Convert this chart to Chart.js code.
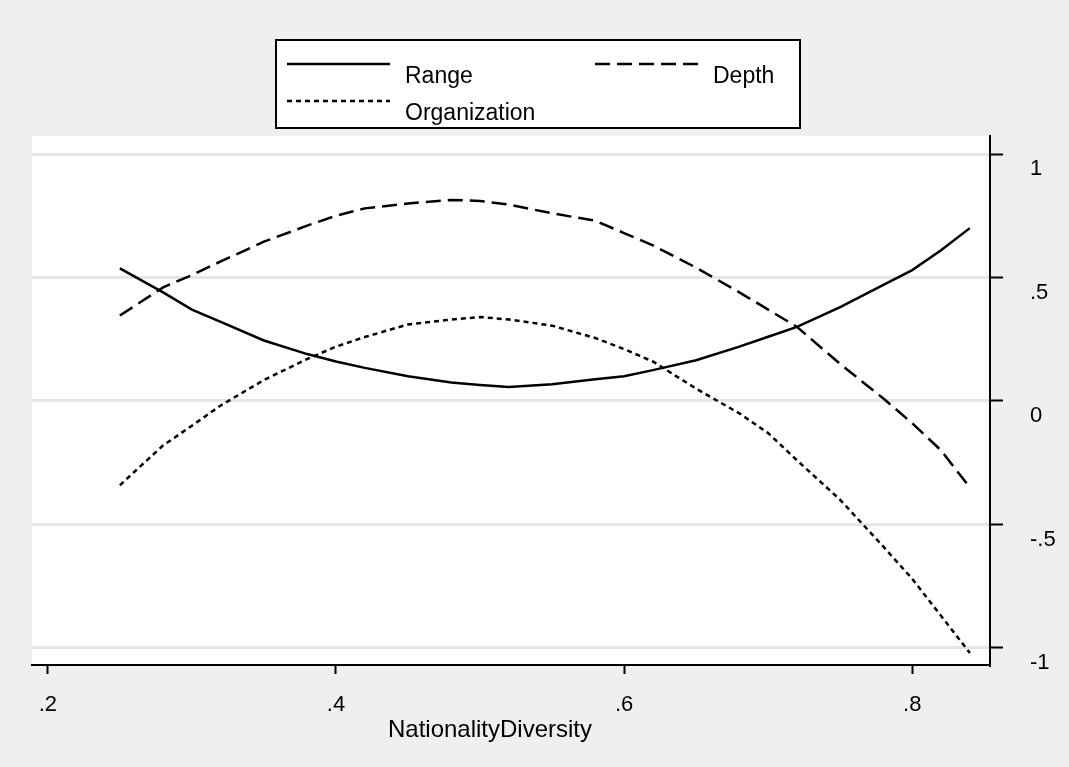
<!DOCTYPE html>
<html lang="en">
<head>
<meta charset="UTF-8">
<title>NationalityDiversity</title>
<script src="https://cdn.jsdelivr.net/npm/chart.js"></script>
<style>
    html, body {
      margin: 0;
      padding: 0;
      background: #efefef;
    }
    #wrap {
      width: 1069px;
      height: 767px;
      position: relative;
    }
</style>
</head>
<body>
<div id="wrap"><canvas id="chart"></canvas></div>

<script>
    // values
    const diversity = [0.25, 0.28, 0.30, 0.32, 0.35, 0.38, 0.40, 0.42, 0.45, 0.48, 0.50, 0.52, 0.55,
                       0.58, 0.60, 0.62, 0.65, 0.68, 0.70, 0.72, 0.75, 0.78, 0.80, 0.82, 0.84];
    const range = [0.537, 0.44, 0.37, 0.32, 0.245, 0.19, 0.16, 0.134, 0.10, 0.075, 0.065, 0.057, 0.068,
                   0.088, 0.10, 0.125, 0.165, 0.22, 0.26, 0.30, 0.38, 0.47, 0.53, 0.61, 0.70];
    const depth = [0.346, 0.46, 0.51, 0.565, 0.645, 0.71, 0.75, 0.78, 0.80, 0.814, 0.81, 0.795, 0.76,
                   0.73, 0.68, 0.63, 0.54, 0.44, 0.37, 0.30, 0.15, 0.01, -0.09, -0.2, -0.35];
    const organization = [-0.341, -0.18, -0.10, -0.018, 0.085, 0.17, 0.22, 0.259, 0.31, 0.33, 0.34, 0.33, 0.305,
                          0.255, 0.21, 0.16, 0.05, -0.05, -0.13, -0.24, -0.40, -0.59, -0.72, -0.87, -1.02];
    const xTicks = [0.2, 0.4, 0.6, 0.8];
    const yTicks = [-1, -0.5, 0, 0.5, 1];

    const FONT = '"Liberation Sans", Arial, sans-serif';
    const fmt = v => {
      if (v === 0) return '0';
      let s = String(Math.round(v * 10) / 10);
      return s.replace('0.', '.');
    };
    const pts = ys => diversity.map((x, i) => ({ x: x, y: ys[i] }));

    const series = [
      { label: 'Range', data: pts(range), dash: [] },
      { label: 'Depth', data: pts(depth), dash: [15, 7] },
      { label: 'Organization', data: pts(organization), dash: [5, 4] }
    ];

    // gray page, white plot region, boxed legend and axis title
    const decor = {
      id: 'decor',
      beforeDraw(chart) {
        const ctx = chart.ctx, a = chart.chartArea;
        ctx.save();
        ctx.fillStyle = '#efefef';
        ctx.fillRect(0, 0, chart.width, chart.height);
        ctx.fillStyle = '#ffffff';
        ctx.fillRect(a.left, a.top, a.right - a.left, a.bottom - a.top);
        ctx.restore();
      },
      afterDraw(chart) {
        const ctx = chart.ctx;
        ctx.save();
        // legend
        ctx.fillStyle = '#ffffff';
        ctx.fillRect(276, 40, 524, 88);
        ctx.strokeStyle = '#000';
        ctx.lineWidth = 2;
        ctx.strokeRect(276, 40, 524, 88);
        const items = [
          { s: series[0], x: 287, y: 64 },
          { s: series[1], x: 595, y: 64 },
          { s: series[2], x: 287, y: 101 }
        ];
        ctx.font = '23px ' + FONT;
        ctx.textBaseline = 'alphabetic';
        items.forEach(it => {
          ctx.lineWidth = 2.5;
          ctx.setLineDash(it.s.dash);
          ctx.beginPath();
          ctx.moveTo(it.x, it.y);
          ctx.lineTo(it.x + 103, it.y);
          ctx.stroke();
          ctx.setLineDash([]);
          ctx.fillStyle = '#000';
          ctx.fillText(it.s.label, it.x + 118, it.y + 19);
        });
        // x axis title
        ctx.font = '24px ' + FONT;
        ctx.textAlign = 'center';
        ctx.fillText('NationalityDiversity', 490, 737);
        ctx.restore();
      }
    };

    new Chart(document.getElementById('chart'), {
      type: 'line',
      data: {
        datasets: series.map(s => ({
          label: s.label,
          data: s.data,
          borderColor: '#000',
          borderWidth: 2.5,
          borderDash: s.dash,
          pointRadius: 0,
          tension: 0,
          fill: false
        }))
      },
      options: {
        responsive: true,
        maintainAspectRatio: false,
        animation: false,
        layout: { padding: { left: 32, top: 136, right: 0, bottom: 0 } },
        plugins: {
          legend: { display: false },
          tooltip: { enabled: false }
        },
        scales: {
          x: {
            type: 'linear',
            min: 0.189,
            max: 0.854,
            afterBuildTicks: s => { s.ticks = xTicks.map(v => ({ value: v })); },
            afterFit: s => { s.height = 102; },
            border: { color: '#000', width: 2 },
            grid: { drawOnChartArea: false, drawTicks: true, tickLength: 9, tickColor: '#000', tickWidth: 2 },
            ticks: { color: '#000', padding: 18, font: { family: FONT, size: 22 }, callback: v => fmt(v), maxRotation: 0 }
          },
          y: {
            position: 'right',
            min: -1.069,
            max: 1.073,
            afterBuildTicks: s => { s.ticks = yTicks.map(v => ({ value: v })); },
            afterFit: s => { s.width = 79; },
            border: { color: '#000', width: 2 },
            grid: { color: '#e6e6e6', lineWidth: 3, drawTicks: true, tickLength: 13, tickColor: '#000', tickWidth: 2 },
            ticks: { color: '#000', padding: 27, labelOffset: 15, font: { family: FONT, size: 22 }, callback: v => fmt(v) }
          }
        }
      },
      plugins: [decor]
    });
</script>
</body>
</html>
